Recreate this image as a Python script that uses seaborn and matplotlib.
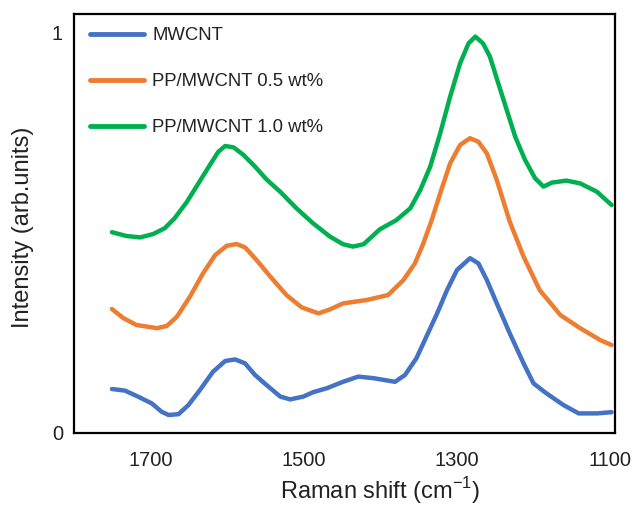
import numpy as np
import pandas as pd
import matplotlib
matplotlib.use("Agg")
import matplotlib.pyplot as plt
import seaborn as sns

series_names = ["MWCNT", "PP/MWCNT 0.5 wt%", "PP/MWCNT 1.0 wt%"]
colors = ["#4472C4", "#ED7D31", "#00B050"]

x_green = [1751, 1732, 1714, 1697, 1682, 1669, 1653, 1638, 1623, 1612, 1603, 1592, 1579, 1564, 1549,
           1531, 1510, 1488, 1466, 1449, 1436, 1422, 1401, 1379, 1361, 1348, 1335, 1322, 1309, 1296,
           1285, 1276, 1266, 1257, 1246, 1235, 1224, 1211, 1198, 1187, 1176, 1157, 1139, 1117, 1098]
y_green = [0.502, 0.4925, 0.489, 0.4975, 0.512, 0.537, 0.578, 0.624, 0.67, 0.703, 0.7175, 0.714, 0.695,
           0.666, 0.634, 0.603, 0.562, 0.524, 0.491, 0.472, 0.466, 0.472, 0.509, 0.5325, 0.562, 0.6075,
           0.666, 0.749, 0.841, 0.924, 0.974, 0.991, 0.974, 0.941, 0.874, 0.8075, 0.741, 0.6825, 0.637,
           0.616, 0.626, 0.631, 0.624, 0.603, 0.57]

x_orange = [1751, 1736, 1719, 1692, 1679, 1666, 1649, 1632, 1616, 1601, 1588, 1577, 1562, 1544, 1523,
            1503, 1481, 1466, 1449, 1418, 1390, 1370, 1355, 1344, 1333, 1322, 1309, 1296, 1283, 1272,
            1261, 1248, 1231, 1213, 1192, 1165, 1139, 1113, 1098]
y_orange = [0.31, 0.287, 0.27, 0.262, 0.268, 0.291, 0.341, 0.399, 0.445, 0.468, 0.4725, 0.464, 0.4325,
            0.391, 0.345, 0.314, 0.299, 0.309, 0.324, 0.3325, 0.345, 0.3825, 0.424, 0.474, 0.5325,
            0.599, 0.674, 0.72, 0.737, 0.728, 0.699, 0.6325, 0.528, 0.441, 0.3575, 0.295, 0.262,
            0.2325, 0.22]

x_blue = [1751, 1734, 1717, 1699, 1686, 1677, 1664, 1651, 1636, 1619, 1603, 1590, 1577, 1564, 1549,
          1531, 1518, 1501, 1488, 1470, 1449, 1429, 1409, 1381, 1368, 1353, 1340, 1326, 1313, 1300,
          1283, 1272, 1261, 1248, 1231, 1213, 1200, 1183, 1161, 1141, 1117, 1098]
y_blue = [0.11, 0.106, 0.091, 0.074, 0.053, 0.045, 0.047, 0.07, 0.1075, 0.153, 0.18, 0.184, 0.174, 0.145,
          0.12, 0.091, 0.084, 0.091, 0.102, 0.112, 0.128, 0.141, 0.137, 0.128, 0.145, 0.187, 0.241,
          0.299, 0.3575, 0.4075, 0.437, 0.424, 0.3825, 0.324, 0.249, 0.174, 0.124, 0.099, 0.07, 0.049,
          0.049, 0.052]

x_ticks = [1700, 1500, 1300, 1100]
y_ticks = [0, 1]

df = pd.concat([
    pd.DataFrame({"x": x_blue, "y": y_blue, "s": series_names[0]}),
    pd.DataFrame({"x": x_orange, "y": y_orange, "s": series_names[1]}),
    pd.DataFrame({"x": x_green, "y": y_green, "s": series_names[2]}),
], ignore_index=True)

sns.set_theme(style="white")
plt.rcParams["font.family"] = ["Liberation Sans", "DejaVu Sans"]
plt.rcParams["mathtext.fontset"] = "custom"
plt.rcParams["mathtext.rm"] = "Liberation Sans"

W, H = 634, 507
L, R, T, B = 74, 615, 14, 433

fig = plt.figure(figsize=(W / 100, H / 100), dpi=100)
ax = fig.add_axes([L / W, 1 - B / H, (R - L) / W, (B - T) / H])

sns.lineplot(data=df, x="x", y="y", hue="s", palette=colors, hue_order=series_names,
             sort=False, estimator=None, linewidth=3.2, ax=ax)
for ln in ax.get_lines():
    ln.set_solid_joinstyle("round")
    ln.set_solid_capstyle("round")

ax.set_xlim(1800.6, 1093.5)
ax.set_ylim(0, (B - T) / 400)
ax.set_xticks(x_ticks)
ax.set_xticklabels([str(t) for t in x_ticks])
ax.set_yticks(y_ticks)
ax.set_yticklabels(["0", "1"])
ax.tick_params(axis="x", direction="out", length=4, width=1, labelsize=14.5, pad=9, colors="#222222")
ax.tick_params(axis="y", direction="out", length=0, labelsize=14.5, pad=8, colors="#222222")
for sp in ax.spines.values():
    sp.set_color("black")
    sp.set_linewidth(1.6)

ax.set_xlabel("Raman shift (cm$^{\\mathregular{-1}}$)", fontsize=17, color="#222222")
ax.xaxis.set_label_coords((380 - L) / (R - L), (B - 475) / (B - T))
ax.set_ylabel("Intensity (arb.units)", fontsize=17, color="#222222")
ax.yaxis.set_label_coords((34 - L) / (R - L), (B - 227) / (B - T))

leg = ax.legend(loc="upper left", frameon=False, fontsize=13.3, handlelength=2.92,
                handletextpad=0.45, labelspacing=1.58, borderpad=0, borderaxespad=0,
                bbox_to_anchor=((90 - L) / (R - L), (B - 27) / (B - T)))
for line in leg.get_lines():
    line.set_linewidth(3.5)
for t in leg.get_texts():
    t.set_color("#222222")

fig.savefig("out.png", dpi=100)
